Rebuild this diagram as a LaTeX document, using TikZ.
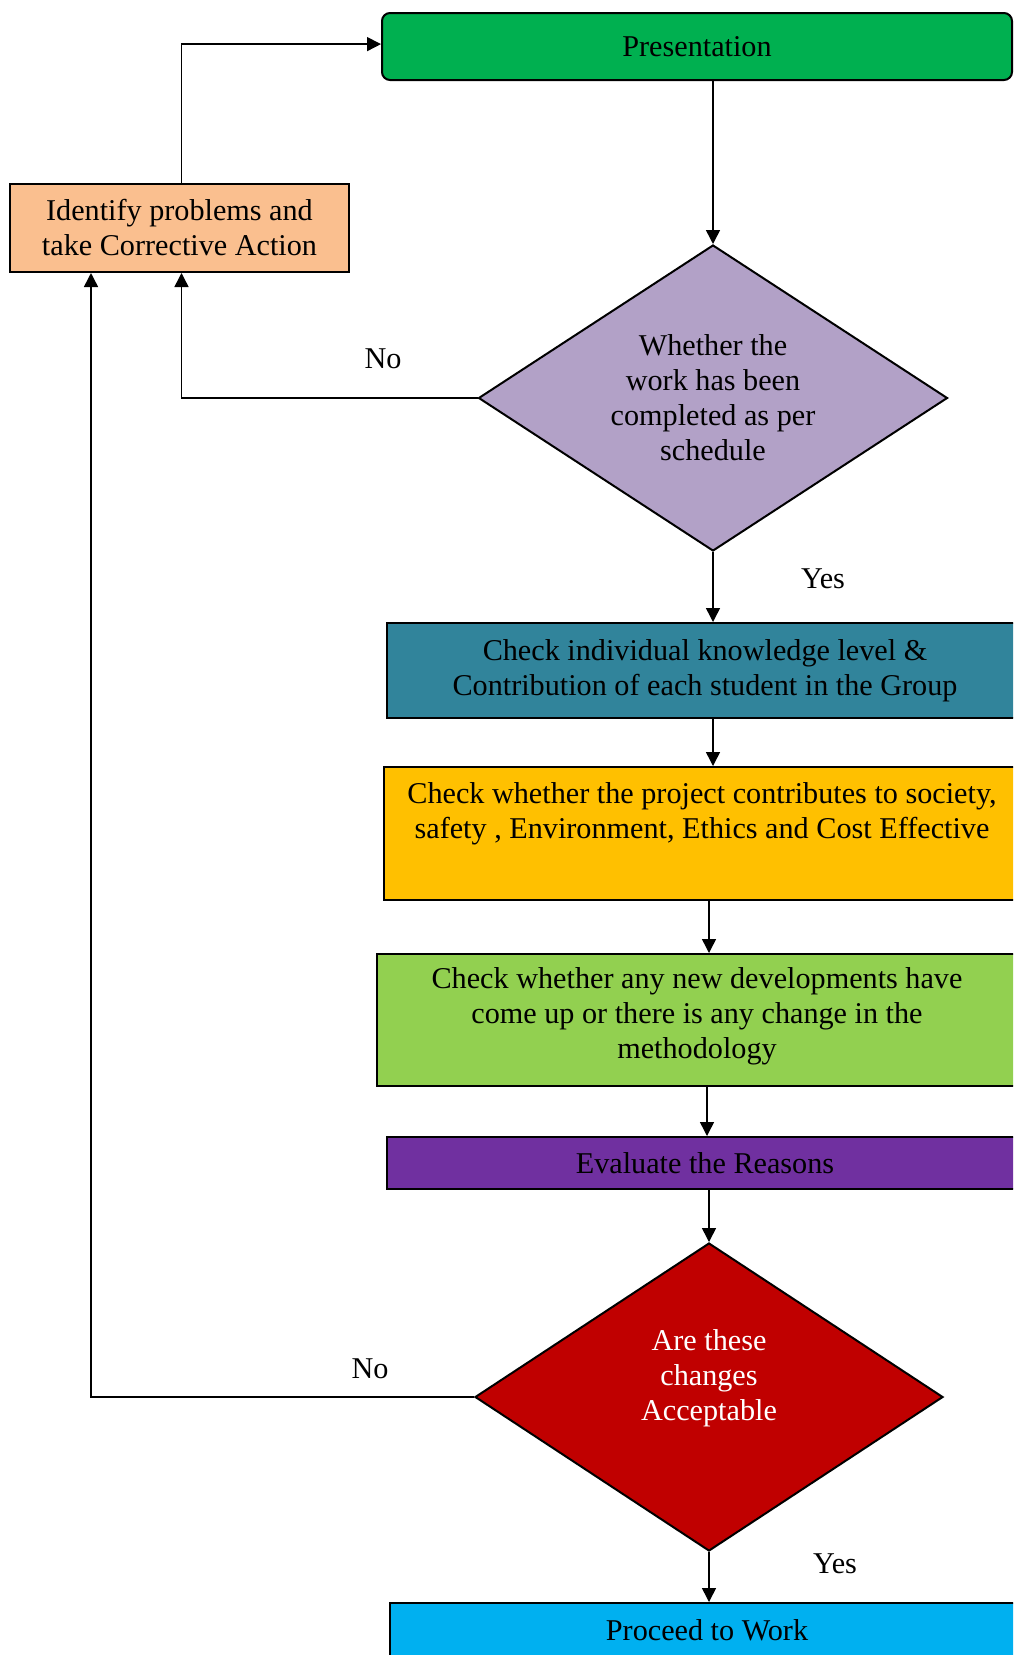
\documentclass[tikz,border=0pt]{standalone}
\usepackage{fontspec}
\setmainfont{Liberation Serif}
\usetikzlibrary{shapes.geometric,arrows.meta}
\definecolor{cpres}{HTML}{00B050}
\definecolor{cact}{HTML}{FABF8F}
\definecolor{cdone}{HTML}{B2A1C7}
\definecolor{cteal}{HTML}{31849B}
\definecolor{cyel}{HTML}{FFC000}
\definecolor{clime}{HTML}{92D050}
\definecolor{cvio}{HTML}{7030A0}
\definecolor{cred}{HTML}{C00000}
\definecolor{cblue}{HTML}{00B0F0}
\tikzset{
  boxnode/.style={draw=black, line width=1pt, rectangle, align=center, inner sep=0pt},
  decnode/.style={draw=black, line width=1pt, diamond, align=center, inner sep=0pt},
  conn/.style={draw=black, line width=0.75pt, -{Triangle[length=7pt,width=7pt]}},
  lbl/.style={inner sep=0pt}
}
\begin{document}
\begin{tikzpicture}[x=0.5pt,y=-0.5pt,font=\fontsize{15.1pt}{17.5pt}\selectfont]
\useasboundingbox (0,0) rectangle (1013,1655);
\clip (0,0) rectangle (1013,1655);

\node[boxnode, fill=cpres, rounded corners=4pt, minimum width=315pt, minimum height=33.5pt] (pres) at (697,46.5) {Presentation};
\node[boxnode, fill=cact, minimum width=169.5pt, minimum height=44pt] (act) at (179.5,228) {Identify problems and\\take Corrective Action};
\node[decnode, fill=cdone, aspect=1.53, minimum width=234.5pt, minimum height=153pt] (d1) at (713,398) {Whether the\\work has been\\completed as per\\schedule};
\node[boxnode, fill=cteal, minimum width=318pt, minimum height=47.5pt] (c1) at (705,670.5) {Check individual knowledge level \&\\Contribution of each student in the Group};
\node[boxnode, fill=cyel, minimum width=318pt, minimum height=66.5pt,
  label={[lbl, align=center, yshift=10pt]center:{Check whether the project contributes to society,\\safety , Environment, Ethics and Cost Effective}}] (c2) at (702,833.5) {};
\node[boxnode, fill=clime, minimum width=320pt, minimum height=66pt,
  label={[lbl, align=center, yshift=2pt]center:{Check whether any new developments have\\come up or there is any change in the\\methodology}}] (c3) at (697,1020) {};
\node[boxnode, fill=cvio, minimum width=318pt, minimum height=26pt] (eval) at (705,1163) {Evaluate the Reasons};
\node[decnode, fill=cred, aspect=1.52, minimum width=234pt, minimum height=154pt,
  label={[lbl, align=center, text=white, yshift=9.5pt]center:{Are these\\changes\\Acceptable}}] (d2) at (709,1397) {};
\node[boxnode, fill=cblue, minimum width=317pt, minimum height=27pt] (proc) at (707,1630) {Proceed to Work};

\node[lbl] (no1) at (383,359) {No};
\node[lbl] (yes1) at (823,579) {Yes};
\node[lbl] (no2) at (370,1369) {No};
\node[lbl] (yes2) at (835,1564) {Yes};

\draw[conn] ([xshift=1pt]act.north) |- ([yshift=1.2pt]pres.west);
\draw[conn] (pres.south -| d1.north) -- (d1.north);
\draw[conn] (d1.west) -| ([xshift=1pt]act.south);
\draw[conn] (d1.south) -- (d1.south |- c1.north);
\draw[conn] (c1.south -| d1.south) -- (c2.north -| d1.south);
\draw[conn] (c2.south -| d2.north) -- (c3.north -| d2.north);
\draw[conn] (c3.south -| proc.north) -- (eval.north -| proc.north);
\draw[conn] (eval.south -| d2.north) -- (d2.north);
\draw[conn] (d2.south) -- (d2.south |- proc.north);
\draw[conn] (d2.west) -| ([xshift=-44.25pt]act.south);
\end{tikzpicture}
\end{document}
